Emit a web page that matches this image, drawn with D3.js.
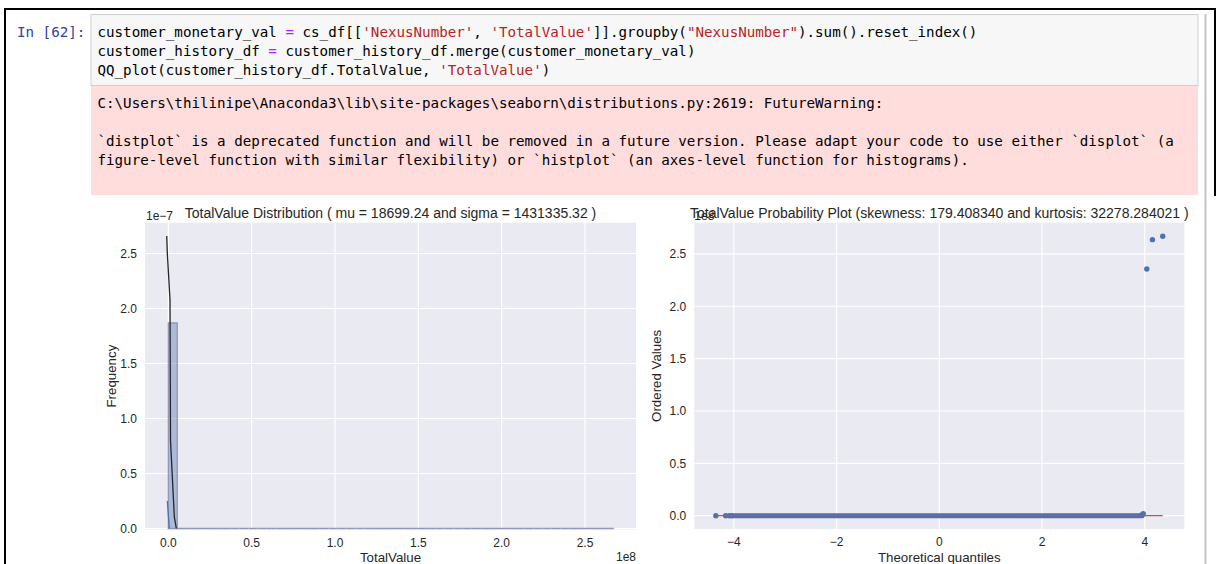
<!DOCTYPE html>
<html>
<head>
<meta charset="utf-8">
<script src="https://cdn.jsdelivr.net/npm/d3@7"></script>
<style>
  body { margin: 0; background: #fff; }
  svg { display: block; }
  .mono { font-family: "DejaVu Sans Mono", "Liberation Mono", monospace; font-size: 14.2px; white-space: pre; }
  .plt { font-family: "Liberation Sans", Arial, sans-serif; fill: #262626; }
</style>
</head>
<body>
<div id="container"></div>
<script>
// histogram (density) of TotalValue, 50 bins between min and max
const histRange = [0, 2.673e8];
const histDensity = [
  1.868e-7, 0, 0, 0, 0, 0, 0, 0, 0, 0,
  0, 0, 0, 0, 0, 0, 0, 0, 0, 0,
  0, 0, 0, 0, 0, 0, 0, 0, 0, 0,
  0, 0, 0, 0, 0, 0, 0, 0, 0, 0,
  0, 0, 0, 0, 0, 0, 0, 0, 0, 0
];
// fitted normal (black) and kde (blue)
const fitCurve = [[-0.0096e8, 2.66e-7], [-0.006e8, 2.5e-7], [0.010e8, 2.08e-7], [0.013e8, 0.80e-7], [0.036e8, 0.105e-7], [0.048e8, 0]];
const kdeCurve = [[-0.006e8, 0.25e-7], [0.006e8, 0]];
const leftXTicks = [0, 0.5e8, 1.0e8, 1.5e8, 2.0e8, 2.5e8];
const leftYTicks = [0, 0.5e-7, 1.0e-7, 1.5e-7, 2.0e-7, 2.5e-7];

// probability plot
const qqTail = [[-4.35, 0], [-4.16, 0], [-4.09, 0], [-4.04, 0], [3.93, 0.005e8], [3.97, 0.02e8]];
const qqBand = [-4.02, 3.95]; // thousands of points sitting on zero
const qqOutliers = [[4.04, 2.356e8], [4.15, 2.636e8], [4.35, 2.669e8]];
const qqFit = [[-4.35, 0], [4.35, 0]];
const rightXTicks = [-4, -2, 0, 2, 4];
const rightYTicks = [0, 0.5e8, 1.0e8, 1.5e8, 2.0e8, 2.5e8];

const codeLines = [
  [["customer_monetary_val ", "t"], ["=", "o"], [" cs_df[[", "t"], ["'NexusNumber'", "s"], [", ", "t"], ["'TotalValue'", "s"], ["]].groupby(", "t"], ["\"NexusNumber\"", "s"], [").sum().reset_index()", "t"]],
  [["customer_history_df ", "t"], ["=", "o"], [" customer_history_df.merge(customer_monetary_val)", "t"]],
  [["QQ_plot(customer_history_df.TotalValue, ", "t"], ["'TotalValue'", "s"], [")", "t"]]
];
const warnLines = [
  "C:\\Users\\thilinipe\\Anaconda3\\lib\\site-packages\\seaborn\\distributions.py:2619: FutureWarning:",
  "",
  "`distplot` is a deprecated function and will be removed in a future version. Please adapt your code to use either `displot` (a",
  "figure-level function with similar flexibility) or `histplot` (an axes-level function for histograms)."
];
const tokenColor = { t: "#000", o: "#AA22FF", s: "#BA2121" };

const W = 1218, H = 564;
const BLUE = "#4C72B0", RED = "#C44E52", BG = "#EAEAF2";
const TICK = "12px", LABEL = "13.3px", TITLE = "14px";

let svg = d3.select("#container").append("svg").attr("width", W).attr("height", H);

// notebook frame
svg.append("rect").attr("x", 91).attr("y", 14.5).attr("width", 1107).attr("height", 71)
  .attr("fill", "#f7f7f7").attr("stroke", "#cfcfcf");
svg.append("rect").attr("x", 91).attr("y", 86).attr("width", 1107).attr("height", 109).attr("fill", "#fdd");
svg.append("line").attr("x1", 5).attr("x2", 1216).attr("y1", 9).attr("y2", 9).attr("stroke", "#000").attr("stroke-width", 2);
svg.append("line").attr("x1", 5).attr("x2", 5).attr("y1", 8).attr("y2", H).attr("stroke", "#000").attr("stroke-width", 2);
svg.append("line").attr("x1", 1215).attr("x2", 1215).attr("y1", 8).attr("y2", 196).attr("stroke", "#000").attr("stroke-width", 2);
svg.append("line").attr("x1", 1205.5).attr("x2", 1205.5).attr("y1", 14).attr("y2", H).attr("stroke", "#c4c4c4").attr("stroke-width", 2);

svg.append("text").attr("class", "mono").attr("x", 17).attr("y", 36.5).attr("fill", "#303F9F").text("In [62]:");

let code = svg.append("g");
codeLines.forEach((line, i) => {
  let t = code.append("text").attr("class", "mono").attr("xml:space", "preserve")
    .attr("x", 97.5).attr("y", 36.5 + i * 19);
  line.forEach((tok) => {
    t.append("tspan").attr("fill", tokenColor[tok[1]]).text(tok[0]);
  });
});
svg.append("g").selectAll("text").data(warnLines).join("text")
  .attr("class", "mono").attr("xml:space", "preserve")
  .attr("x", 97.5).attr("y", (d, i) => 107.5 + i * 19)
  .attr("fill", "#000").text((d) => d);

// shared axes frame
function frame(g, x, y, xTicks, yTicks, xFmt, yFmt, x0, x1, y0, y1) {
  g.append("rect").attr("x", x0).attr("y", y0).attr("width", x1 - x0).attr("height", y1 - y0).attr("fill", BG);
  g.append("g").selectAll("line").data(xTicks).join("line")
    .attr("x1", (d) => x(d)).attr("x2", (d) => x(d)).attr("y1", y0).attr("y2", y1)
    .attr("stroke", "#fff").attr("stroke-width", 1.2);
  g.append("g").selectAll("line").data(yTicks).join("line")
    .attr("x1", x0).attr("x2", x1).attr("y1", (d) => y(d)).attr("y2", (d) => y(d))
    .attr("stroke", "#fff").attr("stroke-width", 1.2);
  g.append("g").selectAll("text").data(xTicks).join("text").attr("class", "plt")
    .attr("x", (d) => x(d)).attr("y", y1 + 17).attr("text-anchor", "middle")
    .style("font-size", TICK).text(xFmt);
  g.append("g").selectAll("text").data(yTicks).join("text").attr("class", "plt")
    .attr("x", x0 - 8).attr("y", (d) => y(d) + 4.3).attr("text-anchor", "end")
    .style("font-size", TICK).text(yFmt);
}

// left: distribution
let L = { x0: 145, x1: 636, y0: 222.7, y1: 529.5 };
let xL = d3.scaleLinear().domain([-0.14e8, 2.806e8]).range([L.x0, L.x1]);
let yL = d3.scaleLinear().domain([0, 2.78e-7]).range([528.5, L.y0]);
let gL = svg.append("g");
frame(gL, xL, yL, leftXTicks, leftYTicks, (d) => (d / 1e8).toFixed(1), (d) => (d / 1e-7).toFixed(1), L.x0, L.x1, L.y0, L.y1);

// bars as paths so that empty bins still show their edge along the bottom
let binW = (histRange[1] - histRange[0]) / histDensity.length;
gL.append("g").selectAll("path").data(histDensity).join("path")
  .attr("d", (d, i) => {
    let a = xL(histRange[0] + i * binW), b = xL(histRange[0] + (i + 1) * binW);
    return `M${a},${yL(0)}V${yL(d)}H${b}V${yL(0)}Z`;
  })
  .attr("fill", BLUE).attr("fill-opacity", 0.4)
  .attr("stroke", "#8f98ba").attr("stroke-width", 1.3);

let lineL = d3.line().x((d) => xL(d[0])).y((d) => yL(d[1]));
gL.append("path").attr("d", lineL(kdeCurve)).attr("fill", "none").attr("stroke", BLUE).attr("stroke-width", 1.3);
gL.append("path").attr("d", lineL(fitCurve)).attr("fill", "none").attr("stroke", "#262626").attr("stroke-width", 1.3);

gL.append("text").attr("class", "plt").attr("x", (L.x0 + L.x1) / 2).attr("y", 217.5)
  .attr("text-anchor", "middle").style("font-size", TITLE)
  .text("TotalValue Distribution ( mu = 18699.24 and sigma = 1431335.32 )");
gL.append("text").attr("class", "plt").attr("x", L.x0 + 1).attr("y", 219.5).style("font-size", TICK).text("1e\u22127");
gL.append("text").attr("class", "plt").attr("x", L.x1).attr("y", 560.5).attr("text-anchor", "end").style("font-size", TICK).text("1e8");
gL.append("text").attr("class", "plt").attr("x", (L.x0 + L.x1) / 2).attr("y", 562)
  .attr("text-anchor", "middle").style("font-size", LABEL).text("TotalValue");
gL.append("text").attr("class", "plt").attr("transform", `translate(115.5,${(L.y0 + L.y1) / 2}) rotate(-90)`)
  .attr("text-anchor", "middle").style("font-size", LABEL).text("Frequency");

// right: probability plot
let R = { x0: 694.3, x1: 1184.3, y0: 222.7, y1: 529 };
let xR = d3.scaleLinear().domain([-4.77, 4.77]).range([R.x0, R.x1]);
let yR = d3.scaleLinear().domain([-0.127e8, 2.798e8]).range([R.y1, R.y0]);
let gR = svg.append("g");
frame(gR, xR, yR, rightXTicks, rightYTicks, (d) => (d < 0 ? "\u2212" + Math.abs(d) : String(d)), (d) => (d / 1e8).toFixed(1), R.x0, R.x1, R.y0, R.y1);

gR.append("line")
  .attr("x1", xR(qqBand[0])).attr("x2", xR(qqBand[1])).attr("y1", yR(0)).attr("y2", yR(0))
  .attr("stroke", BLUE).attr("stroke-width", 5).attr("stroke-linecap", "round");
gR.append("g").selectAll("circle").data(qqTail.concat(qqOutliers)).join("circle")
  .attr("cx", (d) => xR(d[0])).attr("cy", (d) => yR(d[1])).attr("r", 2.7).attr("fill", BLUE);
let lineR = d3.line().x((d) => xR(d[0])).y((d) => yR(d[1]));
gR.append("path").attr("d", lineR(qqFit)).attr("fill", "none").attr("stroke", RED).attr("stroke-width", 1.2);

// title first, then the offset text drawn over it, as in the original figure
gR.append("text").attr("class", "plt").attr("x", (R.x0 + R.x1) / 2).attr("y", 217.5)
  .attr("text-anchor", "middle").style("font-size", TITLE)
  .text("TotalValue Probability Plot (skewness: 179.408340 and kurtosis: 32278.284021 )");
gR.append("text").attr("class", "plt").attr("x", R.x0).attr("y", 219.5).style("font-size", TICK).text("1e8");
gR.append("text").attr("class", "plt").attr("x", (R.x0 + R.x1) / 2).attr("y", 562)
  .attr("text-anchor", "middle").style("font-size", LABEL).text("Theoretical quantiles");
gR.append("text").attr("class", "plt").attr("transform", `translate(660.5,${(R.y0 + R.y1) / 2}) rotate(-90)`)
  .attr("text-anchor", "middle").style("font-size", LABEL).text("Ordered Values");
</script>
</body>
</html>
